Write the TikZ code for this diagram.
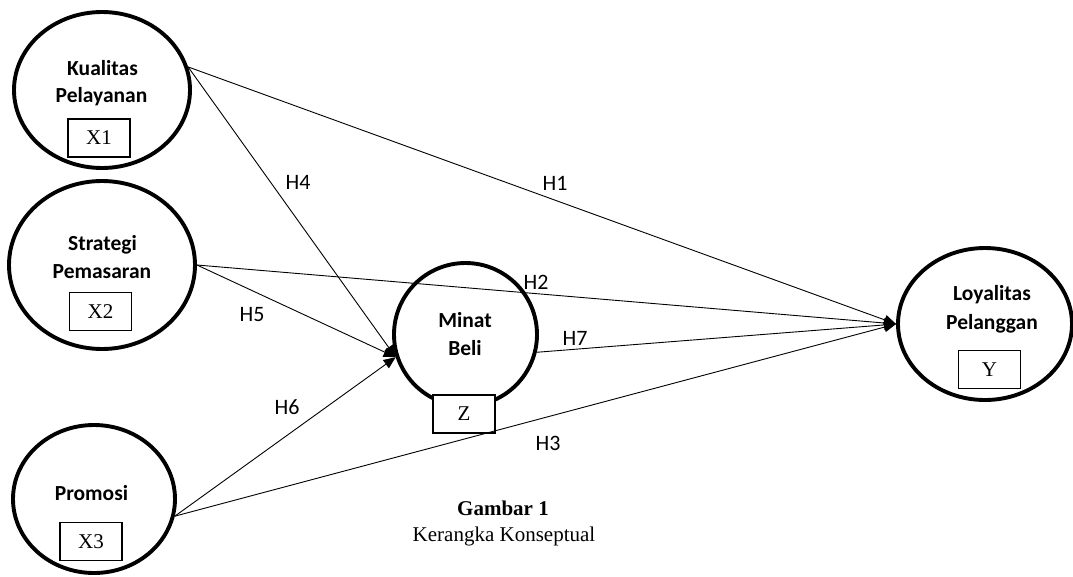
\documentclass[tikz,border=0pt]{standalone}
\usepackage{fontspec}
\setmainfont{Liberation Serif}
\newfontfamily\calibri{Carlito}
\usetikzlibrary{shapes.geometric,arrows.meta}
\tikzset{
  latent/.style={draw=black,line width=3.9pt,ellipse,inner sep=0pt},
  vname/.style={font=\calibri\bfseries\fontsize{21.5}{24}\selectfont,anchor=base,inner sep=0pt},
  vbox/.style={draw=black,line width=1.3pt,fill=white,minimum width=62pt,minimum height=38pt,inner sep=0pt,font=\fontsize{21}{22}\selectfont},
  hlab/.style={font=\calibri\fontsize{22}{24}\selectfont,inner sep=0pt},
  path/.style={draw=black,line width=0.9pt},
  arr/.style={path,-{Triangle[length=12pt,width=10pt]}},
}
\begin{document}
\begin{tikzpicture}[x=1pt,y=-1pt]
\path[use as bounding box] (0,0) rectangle (1073,576);
% latent variables
\node[latent,minimum width=176pt,minimum height=156pt] (x1) at (102,90) {};
\node[latent,minimum width=186pt,minimum height=168pt] (x2) at (102,265) {};
\node[latent,minimum width=162pt,minimum height=148pt] (x3) at (94,499) {};
\node[latent,circle,minimum size=143pt] (mb) at (465.5,334.5) {};
\node[latent,minimum width=174pt,minimum height=152pt] (ly) at (985,324) {};
% names
\node[vname] (t1a) at (102.5,75) {Kualitas};
\node[vname] (t1b) at (101.5,102) {Pelayanan};
\node[vname] (t2a) at (102.5,250) {Strategi};
\node[vname] (t2b) at (102,278) {Pemasaran};
\node[vname] (t3a) at (91.5,500) {Promosi};
\node[vname] (tza) at (465,327) {Minat};
\node[vname] (tzb) at (465,355) {Beli};
\node[vname] (tya) at (992,300) {Loyalitas};
\node[vname] (tyb) at (992,329) {Pelanggan};
% boxes
\node[vbox] (b1) at (99,138) {X1};
\node[vbox] (b2) at (100.5,311.5) {X2};
\node[vbox] (b3) at (91,541.5) {X3};
\node[vbox] (bz) at (464,414) {Z};
\node[vbox] (by) at (989.5,369.5) {Y};
% paths
\draw[arr] (x1.15) -- (ly.west);
\draw[arr] (x2.east) -- (ly.west);
\draw[arr] (mb.-14) -- (ly.west);
\draw[arr] (x3.-12) -- (ly.west);
\draw[arr] (x1.15) -- (mb.198);
\draw[arr] (x2.east) -- (mb.198);
\draw[arr] (x3.-12) -- (mb.198);
% labels
\node[hlab] (h1) at (555,183) {H1};
\node[hlab] (h2) at (536,282) {H2};
\node[hlab] (h3) at (548,443) {H3};
\node[hlab] (h4) at (298,182) {H4};
\node[hlab] (h5) at (252,315) {H5};
\node[hlab] (h6) at (287,407) {H6};
\node[hlab] (h7) at (575,338) {H7};
% caption
\node[font=\bfseries\fontsize{21}{22}\selectfont,anchor=base,inner sep=0pt] (cap1) at (503,515) {Gambar 1};
\node[font=\fontsize{21}{22}\selectfont,anchor=base,inner sep=0pt] (cap2) at (504,541) {Kerangka Konseptual};
\end{tikzpicture}
\end{document}
